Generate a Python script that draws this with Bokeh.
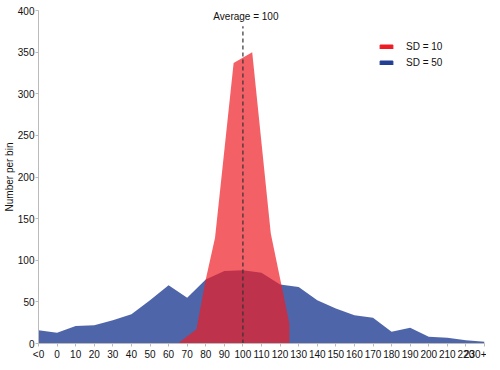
from bokeh.plotting import figure
from bokeh.models import ColumnDataSource, Legend, LegendItem, FixedTicker, Label
from bokeh.embed import file_html
from bokeh.resources import INLINE

# ---- data ----
x_labels = ["<0", "0", "10", "20", "30", "40", "50", "60", "70", "80", "90", "100",
            "110", "120", "130", "140", "150", "160", "170", "180", "190", "200",
            "210", "220", "230+"]
sd50_values = [16, 13, 21, 22, 28, 35, 52, 70, 55, 77, 87, 88, 85, 71, 68, 52,
               42, 34, 31, 14, 19, 8, 7, 4, 2]
sd10_x = [65, 75, 80, 85, 95, 105, 115, 125, 125]
sd10_values = [0, 17, 77, 127, 337, 350, 132, 24, 0]
average = 100
y_ticks = [0, 50, 100, 150, 200, 250, 300, 350, 400]
series_names = ["SD = 10", "SD = 50"]

FONT = "Liberation Sans"
RED = "#ee1c25"
BLUE = "#233f94"
NAN = float("nan")

x_pos = [-10 + 10 * i for i in range(len(x_labels))]

p = figure(width=486, height=362, output_backend="svg", toolbar_location=None,
           x_range=(x_pos[0], x_pos[-1]), y_range=(0, 400),
           min_border_left=0, min_border_right=2, min_border_top=10, min_border_bottom=0)
p.outline_line_color = None
p.xgrid.grid_line_color = None
p.ygrid.grid_line_color = None
p.background_fill_color = "white"

blue_src = ColumnDataSource(dict(x=x_pos, y=sd50_values))
red_src = ColumnDataSource(dict(x=sd10_x, y=sd10_values))

p.varea(x="x", y1=0, y2="y", source=blue_src, fill_color=BLUE, fill_alpha=0.8)
p.varea(x="x", y1=0, y2="y", source=red_src, fill_color=RED, fill_alpha=0.7)

# average line
p.segment(x0=[average], y0=[0], x1=[average], y1=[381], line_color="#333333",
          line_width=1.2, line_dash="4 3")
p.add_layout(Label(x=average, y=400, text="Average = %d" % average, text_font=FONT,
                   text_font_size="10px", text_color="#111111", text_align="center",
                   text_baseline="top", x_offset=3, y_offset=0))

# legend with solid swatches (legend-only renderers, nothing drawn in the plot)
r_leg_red = p.quad(left=[NAN], right=[NAN], top=[NAN], bottom=[NAN],
                   fill_color=RED, line_color=RED)
r_leg_blue = p.quad(left=[NAN], right=[NAN], top=[NAN], bottom=[NAN],
                    fill_color=BLUE, line_color=BLUE)
legend = Legend(items=[LegendItem(label=series_names[0], renderers=[r_leg_red]),
                       LegendItem(label=series_names[1], renderers=[r_leg_blue])],
                orientation="vertical")
legend.border_line_color = None
legend.background_fill_alpha = 0
legend.padding = 0
legend.margin = 0
legend.spacing = 0
legend.glyph_width = 16
legend.glyph_height = 5
legend.label_height = 16
legend.label_standoff = 12
legend.label_text_font = FONT
legend.label_text_font_size = "10px"
legend.label_text_color = "#111111"
legend.location = (340, 273)
p.add_layout(legend, "center")

# axes
p.xaxis.ticker = FixedTicker(ticks=x_pos)
p.xaxis.major_label_overrides = {x: lab for x, lab in zip(x_pos, x_labels)}
p.yaxis.ticker = FixedTicker(ticks=y_ticks)
for ax in (p.xaxis[0], p.yaxis[0]):
    ax.axis_line_color = "#bbbbbb"
    ax.major_tick_line_color = "#bbbbbb"
    ax.minor_tick_line_color = None
    ax.major_tick_in = 0
    ax.major_tick_out = 3
    ax.major_label_standoff = 2
    ax.major_label_text_font = FONT
    ax.major_label_text_font_size = "10px"
    ax.major_label_text_color = "#111111"
p.yaxis.major_label_standoff = 1
p.yaxis.axis_label = "Number per bin"
p.yaxis.axis_label_text_font = FONT
p.yaxis.axis_label_text_font_size = "10px"
p.yaxis.axis_label_text_font_style = "normal"
p.yaxis.axis_label_text_color = "#111111"
p.yaxis.axis_label_standoff = 0

open("out.html", "w").write(file_html(p, INLINE))
